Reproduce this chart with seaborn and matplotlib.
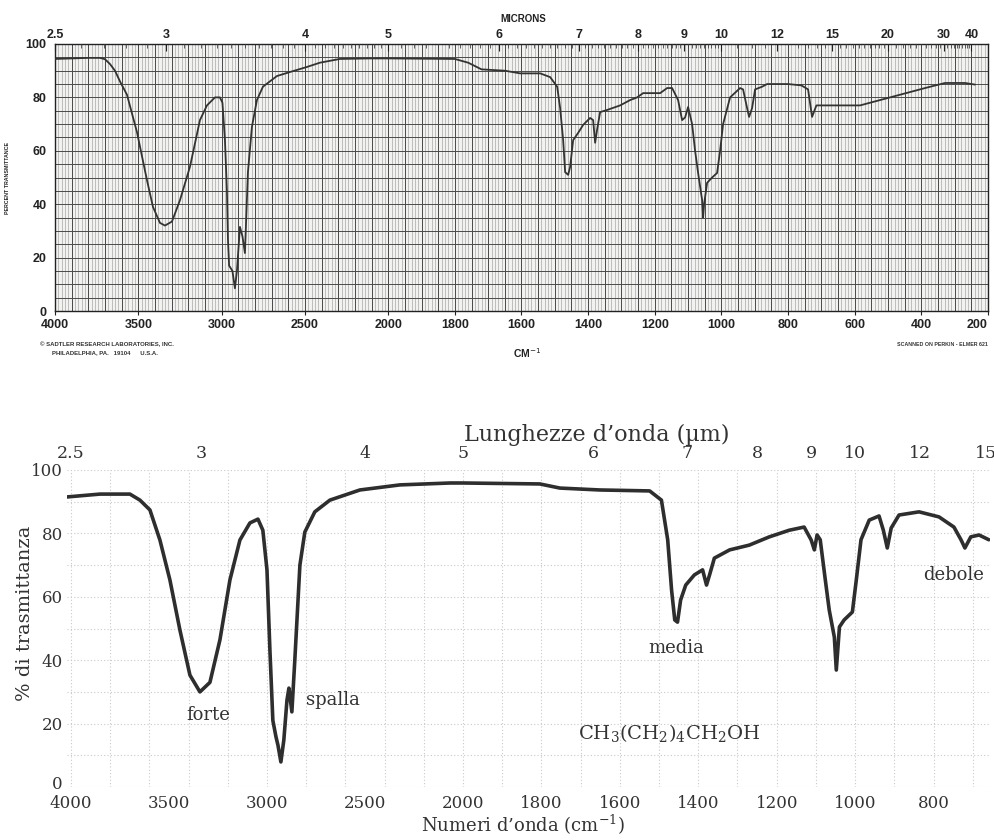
import numpy as np
import pandas as pd
import matplotlib
matplotlib.use("Agg")
import matplotlib.pyplot as plt
import matplotlib.transforms as mtransforms
import seaborn as sns

sns.set_theme(style="white")
plt.rcParams["font.family"] = ["DejaVu Sans"]
plt.rcParams["mathtext.fontset"] = "dejavuserif"

# ------------------------------------------------------------------ data
# top panel: scanned Sadtler spectrum (wavenumber cm-1, % transmittance)
top_wavenumber = [4000, 3900, 3800, 3730, 3700, 3670, 3640, 3610, 3568, 3508,
                  3448, 3412, 3370, 3340, 3298, 3250, 3190, 3130, 3088, 3040,
                  3010, 2995, 2980, 2968, 2962, 2955, 2945, 2935, 2920, 2908,
                  2890, 2875, 2860, 2842, 2818, 2788, 2752, 2668, 2590, 2488,
                  2410, 2290, 2110, 2000, 1800, 1760, 1720, 1650, 1604, 1544,
                  1514, 1493, 1484, 1475, 1469, 1460, 1454, 1445, 1430, 1415,
                  1394, 1385, 1379, 1373, 1364, 1343, 1304, 1274, 1253, 1235,
                  1205, 1184, 1163, 1148, 1130, 1118, 1109, 1100, 1088, 1079,
                  1070, 1058, 1055, 1052, 1043, 1028, 1013, 1004, 995, 974,
                  944, 935, 923, 917, 908, 899, 878, 863, 800, 760,
                  740, 728, 715, 700, 650, 584, 524, 464, 389, 329,
                  269, 239]
top_transmittance = [94.4, 94.6, 94.8, 94.8, 94.3, 92.5, 90.0, 86.0, 81.0, 67.0,
                     49.0, 39.0, 33.0, 32.0, 33.5, 41.5, 54.0, 71.5, 77.0, 80.0,
                     80.0, 78.0, 64.0, 45.0, 27.0, 17.0, 16.0, 15.0, 8.5, 15.0,
                     31.5, 28.0, 21.7, 52.0, 69.0, 79.0, 84.0, 88.0, 89.5, 91.4,
                     93.0, 94.4, 94.6, 94.6, 94.4, 93.0, 90.5, 90.0, 89.0, 89.0,
                     87.6, 84.0, 76.0, 64.0, 52.0, 51.0, 54.0, 64.0, 66.7, 69.7,
                     72.3, 71.5, 63.0, 68.0, 74.5, 75.3, 77.0, 79.0, 80.0, 81.6,
                     81.6, 81.6, 83.5, 83.5, 79.0, 71.5, 72.5, 76.4, 70.0, 60.0,
                     51.7, 41.6, 35.0, 40.0, 48.0, 50.0, 51.7, 60.0, 70.0, 80.0,
                     83.5, 83.0, 76.0, 72.7, 76.0, 83.0, 84.0, 85.0, 85.0, 84.5,
                     83.0, 72.7, 77.0, 77.0, 77.0, 77.0, 79.0, 81.0, 83.5, 85.4,
                     85.4, 84.8]

# bottom panel: redrawn spectrum of 1-hexanol
bottom_wavenumber = [4020, 3852, 3699, 3648, 3597, 3546, 3495, 3444, 3393, 3342,
                     3291, 3240, 3189, 3138, 3087, 3046, 3021, 3000, 2985, 2970,
                     2954, 2944, 2929, 2914, 2898, 2888, 2873, 2858, 2832, 2807,
                     2756, 2679, 2526, 2322, 2066, 2000, 1804, 1753, 1651, 1524,
                     1494, 1478, 1468, 1460, 1453, 1445, 1432, 1410, 1389, 1379,
                     1371, 1359, 1320, 1270, 1219, 1168, 1130, 1112, 1104, 1097,
                     1089, 1076, 1066, 1053, 1048, 1040, 1028, 1007, 997, 985,
                     964, 939, 928, 918, 908, 888, 837, 786, 748, 730,
                     720, 705, 684, 659]
bottom_transmittance = [91.5, 92.4, 92.4, 90.5, 87.4, 77.9, 65.3, 49.5, 35.3, 30.0,
                        33.0, 46.4, 65.3, 77.9, 83.3, 84.5, 81.0, 68.5, 43.2, 21.0,
                        15.8, 13.2, 7.9, 14.8, 27.4, 31.2, 23.7, 40.0, 70.0, 80.4,
                        86.8, 90.5, 93.7, 95.3, 95.9, 95.9, 95.6, 94.3, 93.7, 93.4,
                        90.5, 78.0, 62.0, 52.7, 52.0, 59.0, 63.7, 66.9, 68.5, 63.7,
                        67.0, 72.2, 74.8, 76.3, 78.9, 81.0, 82.0, 77.9, 74.8, 79.5,
                        78.0, 65.3, 55.8, 47.3, 36.9, 50.5, 52.7, 55.2, 65.3, 78.0,
                        84.2, 85.5, 81.0, 75.4, 81.7, 85.8, 86.8, 85.2, 82.0, 78.0,
                        75.4, 78.9, 79.5, 78.0]

top_cm_ticks = [4000, 3500, 3000, 2500, 2000, 1800, 1600, 1400, 1200, 1000, 800, 600, 400, 200]
top_micron_ticks = [2.5, 3, 4, 5, 6, 7, 8, 9, 10, 12, 15, 20, 30, 40]
pct_ticks = [0, 20, 40, 60, 80, 100]
bottom_cm_ticks = [4000, 3500, 3000, 2500, 2000, 1800, 1600, 1400, 1200, 1000, 800]
bottom_micron_ticks = [2.5, 3, 4, 5, 6, 7, 8, 9, 10, 12, 15]
band_labels = ["forte", "spalla", "media", "debole"]
compound_label = r"CH$_3$(CH$_2$)$_4$CH$_2$OH"

df_top = pd.DataFrame({"wn": top_wavenumber, "T": top_transmittance})
df_bot = pd.DataFrame({"wn": bottom_wavenumber, "T": bottom_transmittance})


# piecewise wavenumber scale: 2x expansion below 2000 cm-1
def _fwd(w):
    w = np.asarray(w, dtype=float)
    return np.where(w >= 2000, w, 2.0 * w - 2000.0)


def _inv(v):
    v = np.asarray(v, dtype=float)
    return np.where(v >= 2000, v, (v + 2000.0) / 2.0)


def micron_label(m):
    return "2.5" if m == 2.5 else str(int(m))


W, H = 995, 840
fig = plt.figure(figsize=(W / 100, H / 100), dpi=100)
fig.patch.set_facecolor("white")

# ================================================================ TOP PANEL
ax_t = fig.add_axes([55 / W, 1 - 311 / H, 933 / W, 267 / H])
ax_t.set_xscale("function", functions=(_fwd, _inv))
ax_t.set_facecolor("#f2f2f0")

# chart-paper grid
fine_left = np.arange(4000, 2000, -20)
fine_right = np.arange(2000, 199, -10)
ax_t.vlines(np.concatenate([fine_left, fine_right]), 0, 100, colors="#a0a0a0", lw=0.45, zorder=0)
med_left = np.arange(4000, 2000, -100)
med_right = np.arange(2000, 199, -50)
ax_t.vlines(np.concatenate([med_left, med_right]), 0, 100, colors="#4a4a4a", lw=0.7, zorder=0)
ax_t.hlines(np.arange(0, 101, 5), 4000, 200, colors="#4a4a4a", lw=0.7, zorder=0)

sns.lineplot(data=df_top, x="wn", y="T", ax=ax_t, sort=False, estimator=None,
             color="#333333", lw=1.3, zorder=3)
ax_t.set_xlim(4000, 200)
ax_t.set_ylim(0, 100)
ax_t.set_xlabel("")
ax_t.set_ylabel("")
ax_t.set_xticks(top_cm_ticks)
ax_t.set_xticklabels([str(t) for t in top_cm_ticks], fontfamily="Liberation Sans",
                     fontweight="bold", fontsize=9, color="#222222")
ax_t.get_xticklabels()[-1].set_horizontalalignment("right")
ax_t.set_yticks(pct_ticks)
ax_t.set_yticklabels([str(t) for t in pct_ticks], fontfamily="Liberation Sans",
                     fontweight="bold", fontsize=9, color="#222222")
ax_t.tick_params(axis="both", which="major", length=3, width=0.8, pad=3,
                 direction="out", colors="#222222")
for sp in ax_t.spines.values():
    sp.set_color("#222222")
    sp.set_linewidth(1.0)

ax_t2 = ax_t.twiny()
ax_t2.set_xscale("function", functions=(_fwd, _inv))
ax_t2.set_xlim(4000, 200)
ax_t2.set_xticks([1e4 / m for m in top_micron_ticks])
ax_t2.set_xticklabels([micron_label(m) for m in top_micron_ticks], fontfamily="Liberation Sans",
                      fontweight="bold", fontsize=9, color="#222222")
minor_um = np.concatenate([np.arange(2.6, 10, 0.1), np.arange(10.5, 20, 0.5), np.arange(21, 41, 1)])
ax_t2.set_xticks(1e4 / minor_um, minor=True)
ax_t2.tick_params(axis="x", which="major", length=5, width=0.8, pad=2, direction="in", colors="#222222")
ax_t2.tick_params(axis="x", which="minor", length=3, width=0.6, direction="in", colors="#444444")
ax_t2.grid(False)
for sp in ax_t2.spines.values():
    sp.set_visible(False)

fig.text(523 / W, 1 - 19 / H, "MICRONS", ha="center", va="center", fontsize=7,
         fontweight="bold", family="Liberation Sans", color="#222222")
fig.text(8 / W, 1 - 178 / H, "PERCENT TRANSMITTANCE", rotation=90, ha="center", va="center",
         fontsize=3.8, fontweight="bold", family="Liberation Sans", color="#222222")
fig.text(40 / W, 1 - 344 / H, "\u00a9 SADTLER RESEARCH LABORATORIES, INC.", ha="left", va="center",
         fontsize=4.3, fontweight="bold", family="Liberation Sans", color="#333333")
fig.text(52 / W, 1 - 353 / H, "PHILADELPHIA, PA.   19104      U.S.A.", ha="left", va="center",
         fontsize=4.3, fontweight="bold", family="Liberation Sans", color="#333333")
fig.text(527 / W, 1 - 353 / H, r"CM$^{-1}$", ha="center", va="center", fontsize=7.5,
         fontweight="bold", family="Liberation Sans", color="#222222", math_fontfamily="dejavusans")
fig.text(988 / W, 1 - 345 / H, "SCANNED ON PERKIN - ELMER 621", ha="right", va="center",
         fontsize=3.8, fontweight="bold", family="Liberation Sans", color="#333333")

# ============================================================= BOTTOM PANEL
serif = ["DejaVu Serif"]
ax_b = fig.add_axes([67 / W, 1 - 787 / H, 923 / W, 317 / H])
ax_b.set_xscale("function", functions=(_fwd, _inv))
ax_b.set_facecolor("white")

grid_x = np.concatenate([np.arange(4000, 2000, -200), np.arange(2000, 650, -100)])
ax_b.vlines(grid_x, 0, 100, colors="#c9c9c9", lw=0.8, linestyles=(0, (1, 2)), zorder=0)
ax_b.hlines(np.arange(0, 101, 10), 4020, 656, colors="#c9c9c9", lw=0.8, linestyles=(0, (1, 2)), zorder=0)

sns.lineplot(data=df_bot, x="wn", y="T", ax=ax_b, sort=False, estimator=None,
             color="#2e2e2e", lw=2.6, zorder=3)
ax_b.set_xlim(4020, 656)
ax_b.set_ylim(0, 100)
ax_b.set_xlabel("")
ax_b.set_ylabel("")
for sp in ax_b.spines.values():
    sp.set_visible(False)
ax_b.set_xticks(bottom_cm_ticks)
ax_b.set_xticklabels([str(t) for t in bottom_cm_ticks], fontfamily=serif, fontsize=12, color="#333333")
ax_b.set_yticks(pct_ticks)
ax_b.set_yticklabels([str(t) for t in pct_ticks], fontfamily=serif, fontsize=12, color="#333333")
ax_b.tick_params(axis="x", length=0, pad=5.5)
ax_b.tick_params(axis="y", length=0, pad=3)
# nudge the "0" label slightly up so it clears the "4000" below it
zero_lbl = ax_b.get_yticklabels()[0]
zero_lbl.set_transform(zero_lbl.get_transform()
                       + mtransforms.ScaledTranslation(0, 3 / 72, fig.dpi_scale_trans))

ax_b2 = ax_b.twiny()
ax_b2.set_xscale("function", functions=(_fwd, _inv))
ax_b2.set_xlim(4020, 656)
ax_b2.set_xticks([1e4 / m for m in bottom_micron_ticks])
ax_b2.set_xticklabels([micron_label(m) for m in bottom_micron_ticks], fontfamily=serif,
                      fontsize=12.5, color="#333333")
ax_b2.tick_params(axis="x", length=0, pad=6)
ax_b2.grid(False)
for sp in ax_b2.spines.values():
    sp.set_visible(False)

fig.text(597 / W, 1 - 435 / H, "Lunghezze d\u2019onda (\u00b5m)", ha="center", va="center",
         fontsize=16, family=serif, color="#333333")
fig.text(523 / W, 1 - 825 / H, r"Numeri d’onda (cm$^{-1}$)", ha="center", va="center",
         fontsize=13, family=serif, color="#333333")
fig.text(25 / W, 1 - 613 / H, "% di trasmittanza", rotation=90, ha="center", va="center",
         fontsize=14, family=serif, color="#333333")

ax_b.text(3300, 22.7, band_labels[0], ha="center", va="center", fontsize=13, family=serif, color="#333333")
ax_b.text(2664, 27.4, band_labels[1], ha="center", va="center", fontsize=13, family=serif, color="#333333")
ax_b.text(1456, 44.0, band_labels[2], ha="center", va="center", fontsize=13, family=serif, color="#333333")
ax_b.text(748, 67.0, band_labels[3], ha="center", va="center", fontsize=13, family=serif, color="#333333")
ax_b.text(1473, 17.0, compound_label, ha="center", va="center", fontsize=14, family=serif, color="#333333")

fig.savefig("out.png", dpi=100)
